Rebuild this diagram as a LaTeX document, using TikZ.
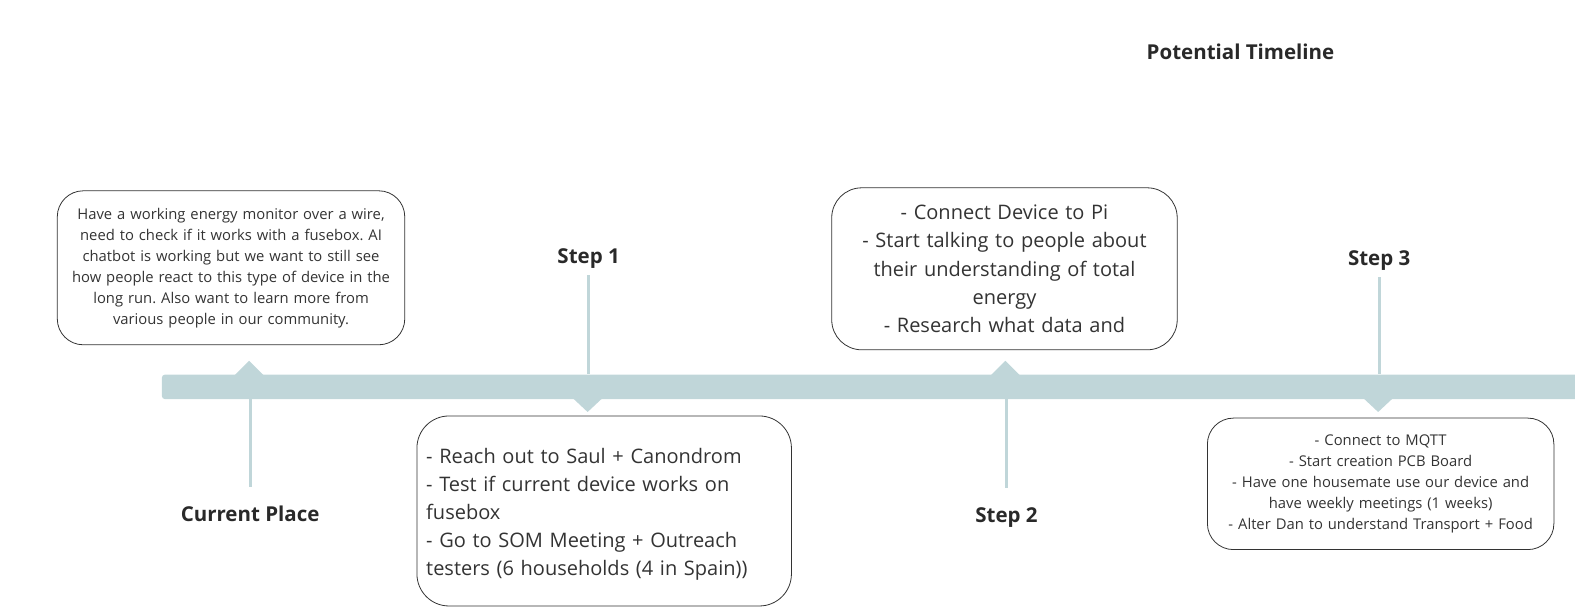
\documentclass[tikz,border=0pt]{standalone}
\usepackage{fontspec}
\setmainfont{Open Sans}
\usepackage{tikz}
\frenchspacing
\definecolor{barcol}{HTML}{C0D6D9}
\definecolor{inkcol}{HTML}{333333}
\tikzset{
  notebox/.style={draw=inkcol, line width=0.8pt, rounded corners=26pt, text=inkcol, inner xsep=9pt},
  smalltext/.style={font=\fontsize{14.8}{21}\selectfont},
  bigtext/.style={font=\fontsize{20}{28.1}\selectfont},
  steplabel/.style={font=\fontsize{20.5}{24}\selectfont\bfseries, text=inkcol!80!black, inner sep=0pt, text height=15pt, text depth=5pt},
  stem/.style={draw=barcol, line width=3pt},
}
\begin{document}
\begin{tikzpicture}[x=1.0045pt,y=-1.0049pt]
\useasboundingbox (0,0) rectangle (1568,612);

\node[steplabel] (title) at (1235,54.5) {Potential Timeline};

% the bar
\node[fill=barcol, rounded corners=3pt, minimum width=1420pt, minimum height=24.5pt, inner sep=0pt, anchor=west] (bar) at (161,385) {};

% pointers above the bar
\foreach \x in {248,1001} {
\fill[barcol] (\x-15,374) -- (\x,359) -- (\x+15,374) -- cycle;
}
% pointers below the bar
\foreach \x in {585,1372} {
\fill[barcol] (\x-15,396) -- (\x,410) -- (\x+15,396) -- cycle;
}

% labels
\node[steplabel] (now) at (249,513.5) {Current Place};
\node[steplabel] (step1) at (586,257.5) {Step 1};
\node[steplabel] (step2) at (1002,514.5) {Step 2};
\node[steplabel] (step3) at (1373,259.5) {Step 3};

\draw[stem] (bar.south -| now) -- ([yshift=18.5pt]now.north);
\draw[stem] (bar.south -| step2) -- ([yshift=18.5pt]step2.north);
\draw[stem] ([yshift=-6.5pt]step1.south) -- (step1 |- bar.north);
\draw[stem] ([yshift=-6.5pt]step3.south) -- (step3 |- bar.north);

% notes
\node[notebox, smalltext, align=center, minimum width=347.5pt, minimum height=154pt, text width=329pt] (nownote) at (230,266.5)
{Have a working energy monitor over a wire,\\ need to check if it works with a fusebox. AI\\ chatbot is working but we want to still see\\ how people react to this type of device in the\\ long run. Also want to learn more from\\ various people in our community.};

\node[notebox, bigtext, align=left, rounded corners=32pt, minimum width=374.5pt, minimum height=190pt, text width=356pt] (note1) at (601.5,508.5)
{\rule{0pt}{22pt}- Reach out to Saul + Canondrom\\ - Test if current device works on\\ fusebox\\ - Go to SOM Meeting + Outreach\\ testers (6 households (4 in Spain))};

\node[notebox, bigtext, align=center, rounded corners=30pt, minimum width=345.5pt, minimum height=162pt, text width=327pt] (note2) at (1000,267.5)
{- Connect Device to Pi\\ - Start talking to people about\\ their understanding of total\\ energy\\ - Research what data and};

\node[notebox, smalltext, align=center, minimum width=346.5pt, minimum height=131.5pt, text width=328pt] (note3) at (1374.5,481.5)
{- Connect to MQTT\\ - Start creation PCB Board\\ - Have one housemate use our device and\\ have weekly meetings (1 weeks)\\ - Alter Dan to understand Transport + Food};

\end{tikzpicture}
\end{document}
